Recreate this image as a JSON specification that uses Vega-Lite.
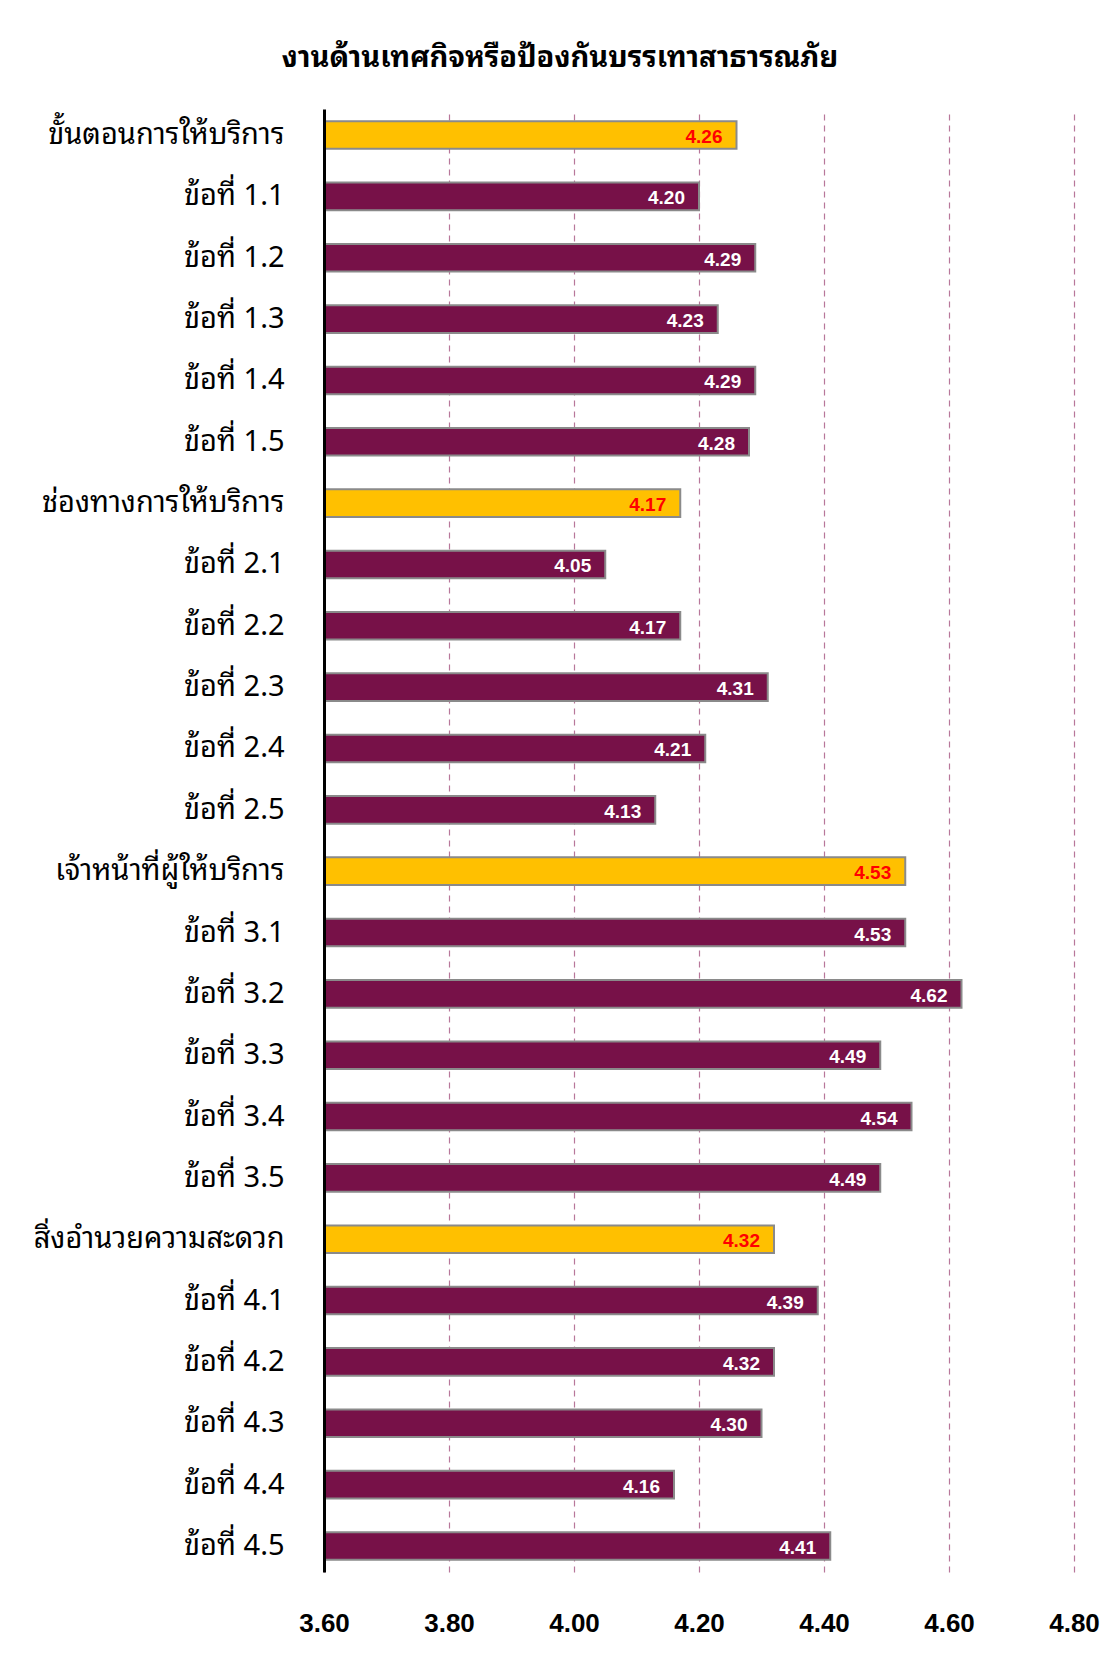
{
  "$schema": "https://vega.github.io/schema/vega-lite/v6.json",
  "autosize": "none",
  "width": 750,
  "height": 1463,
  "padding": {"left": 324, "top": 109, "right": 41, "bottom": 89},
  "background": "white",
  "title": {
    "text": "งานด้านเทศกิจหรือป้องกันบรรเทาสาธารณภัย",
    "font": "Noto Sans Thai Looped, Noto Sans Thai, Noto Sans, sans-serif",
    "fontSize": 29,
    "fontWeight": "bold",
    "color": "#000000",
    "anchor": "middle",
    "dx": -139,
    "offset": 36
  },
  "data": {
    "values": [
      {"label": "ขั้นตอนการให้บริการ", "value": 4.26, "group": "head"},
      {"label": "ข้อที่ 1.1", "value": 4.20, "group": "item"},
      {"label": "ข้อที่ 1.2", "value": 4.29, "group": "item"},
      {"label": "ข้อที่ 1.3", "value": 4.23, "group": "item"},
      {"label": "ข้อที่ 1.4", "value": 4.29, "group": "item"},
      {"label": "ข้อที่ 1.5", "value": 4.28, "group": "item"},
      {"label": "ช่องทางการให้บริการ", "value": 4.17, "group": "head"},
      {"label": "ข้อที่ 2.1", "value": 4.05, "group": "item"},
      {"label": "ข้อที่ 2.2", "value": 4.17, "group": "item"},
      {"label": "ข้อที่ 2.3", "value": 4.31, "group": "item"},
      {"label": "ข้อที่ 2.4", "value": 4.21, "group": "item"},
      {"label": "ข้อที่ 2.5", "value": 4.13, "group": "item"},
      {"label": "เจ้าหน้าที่ผู้ให้บริการ", "value": 4.53, "group": "head"},
      {"label": "ข้อที่ 3.1", "value": 4.53, "group": "item"},
      {"label": "ข้อที่ 3.2", "value": 4.62, "group": "item"},
      {"label": "ข้อที่ 3.3", "value": 4.49, "group": "item"},
      {"label": "ข้อที่ 3.4", "value": 4.54, "group": "item"},
      {"label": "ข้อที่ 3.5", "value": 4.49, "group": "item"},
      {"label": "สิ่งอำนวยความสะดวก", "value": 4.32, "group": "head"},
      {"label": "ข้อที่ 4.1", "value": 4.39, "group": "item"},
      {"label": "ข้อที่ 4.2", "value": 4.32, "group": "item"},
      {"label": "ข้อที่ 4.3", "value": 4.30, "group": "item"},
      {"label": "ข้อที่ 4.4", "value": 4.16, "group": "item"},
      {"label": "ข้อที่ 4.5", "value": 4.41, "group": "item"}
    ]
  },
  "encoding": {
    "y": {
      "field": "label",
      "type": "nominal",
      "sort": null,
      "scale": {"paddingInner": 0.55, "paddingOuter": 0.2},
      "axis": {
        "title": null,
        "ticks": false,
        "domain": true,
        "domainColor": "#000000",
        "domainWidth": 3,
        "labelFont": "Noto Sans Thai Looped, Noto Sans Thai, Noto Sans, sans-serif",
        "labelFontSize": 29,
        "labelColor": "#000000",
        "labelPadding": 40,
        "labelLimit": 320,
        "zindex": 2
      }
    }
  },
  "layer": [
    {
      "mark": {"type": "bar", "stroke": "#8a8a8a", "strokeWidth": 2},
      "encoding": {
        "x": {
          "field": "value",
          "type": "quantitative",
          "scale": {"domain": [3.6, 4.8], "zero": false, "nice": false},
          "axis": {
            "title": null,
            "values": [3.6, 3.8, 4.0, 4.2, 4.4, 4.6, 4.8],
            "format": ".2f",
            "ticks": false,
            "domain": false,
            "grid": true,
            "gridColor": "#b8779a",
            "gridDash": [6, 5],
            "gridWidth": 1.2,
            "labelFont": "Liberation Sans Narrow, Liberation Sans, sans-serif",
            "labelFontSize": 26,
            "labelFontWeight": "bold",
            "labelColor": "#000000",
            "labelPadding": 38,
            "labelFlush": false
          }
        },
        "x2": {"datum": 3.6},
        "color": {
          "field": "group",
          "type": "nominal",
          "scale": {"domain": ["head", "item"], "range": ["#FFC000", "#771148"]},
          "legend": null
        }
      }
    },
    {
      "mark": {
        "type": "text",
        "align": "right",
        "baseline": "middle",
        "dx": -14,
        "dy": 2,
        "font": "Liberation Sans Narrow, Liberation Sans, sans-serif",
        "fontSize": 19,
        "fontWeight": "bold"
      },
      "encoding": {
        "x": {"field": "value", "type": "quantitative"},
        "text": {"field": "value", "type": "quantitative", "format": ".2f"},
        "color": {
          "field": "group",
          "type": "nominal",
          "scale": {"domain": ["head", "item"], "range": ["#FF0000", "#FFFFFF"]},
          "legend": null
        }
      }
    }
  ],
  "resolve": {"scale": {"color": "independent"}},
  "config": {"view": {"stroke": null}}
}
